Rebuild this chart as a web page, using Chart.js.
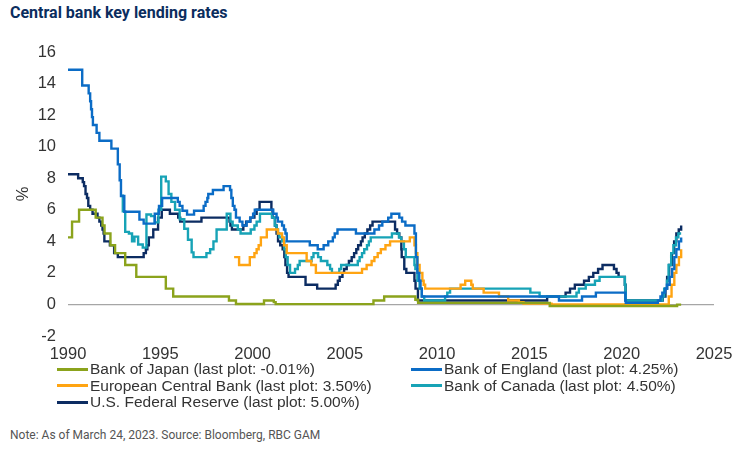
<!DOCTYPE html>
<html>
<head>
<meta charset="utf-8">
<script src="https://cdn.jsdelivr.net/npm/chart.js@4/dist/chart.umd.min.js"></script>
<style>
  html, body { margin: 0; padding: 0; background: #fff; }
  body { width: 744px; height: 452px; position: relative; overflow: hidden; }
  .title { position: absolute; left: 10px; top: 3px; font: bold 16px Roboto, sans-serif; color: #0b2d5e; }
  #chart { position: absolute; left: 0; top: 0; }
  .legend { position: absolute; top: 361px; left: 57px; display: grid; grid-template-columns: 354px 320px; row-gap: 0; font: 15.5px "Liberation Sans Narrow", "Arial Narrow", sans-serif; color: #333; }
  .legend-item { display: flex; align-items: center; height: 16.5px; white-space: nowrap; }
  .legend-line { width: 31px; height: 3px; margin-right: 2px; }
  .note { position: absolute; left: 10px; top: 428px; font: 12px Roboto, sans-serif; color: #555; }
</style>
</head>
<body>
<div class="title">Central bank key lending rates</div>
<canvas id="chart" width="744" height="362"></canvas>
<div class="legend" id="legend"></div>
<div class="note">Note: As of March 24, 2023. Source: Bloomberg, RBC GAM</div>
<script>
/* ---- change points: [decimal year, rate %] ---- */
const bojRates = [[1990.0,4.25],[1990.22,5.25],[1990.6,6.0],[1991.5,5.5],[1991.87,5.0],[1991.98,4.5],[1992.3,3.75],[1992.55,3.25],[1993.1,2.5],[1993.7,1.75],[1995.3,1.0],[1995.7,0.5],[1998.72,0.25],[1999.1,0.03],[2000.62,0.25],[2001.15,0.15],[2001.25,0.02],[2006.55,0.25],[2007.13,0.5],[2008.82,0.3],[2008.97,0.1],[2016.1,-0.1],[2023.0,-0.01],[2023.22,-0.01]];

const boeRates = [[1990.0,14.875],[1990.77,13.875],[1991.12,13.375],[1991.2,12.875],[1991.25,12.375],[1991.3,11.875],[1991.35,11.375],[1991.55,10.875],[1991.7,10.375],[1992.35,9.875],[1992.7,8.875],[1992.8,7.875],[1992.87,6.875],[1993.05,5.875],[1993.87,5.375],[1994.1,5.125],[1994.7,5.75],[1994.93,6.25],[1995.1,6.75],[1995.95,6.5],[1996.05,6.25],[1996.2,5.94],[1996.45,5.69],[1996.83,5.94],[1997.35,6.25],[1997.45,6.5],[1997.55,6.75],[1997.6,7.0],[1997.85,7.25],[1998.43,7.5],[1998.78,7.25],[1998.85,6.75],[1998.93,6.25],[1999.02,6.0],[1999.1,5.5],[1999.3,5.25],[1999.45,5.0],[1999.68,5.25],[1999.87,5.5],[2000.03,5.75],[2000.12,6.0],[2001.12,5.75],[2001.3,5.5],[2001.37,5.25],[2001.6,5.0],[2001.7,4.75],[2001.78,4.5],[2001.85,4.0],[2003.1,3.75],[2003.53,3.5],[2003.85,3.75],[2004.1,4.0],[2004.35,4.25],[2004.45,4.5],[2004.6,4.75],[2005.6,4.5],[2006.6,4.75],[2006.85,5.0],[2007.03,5.25],[2007.35,5.5],[2007.52,5.75],[2007.95,5.5],[2008.1,5.25],[2008.28,5.0],[2008.77,4.5],[2008.85,3.0],[2008.93,2.0],[2009.03,1.5],[2009.1,1.0],[2009.17,0.5],[2016.6,0.25],[2017.85,0.5],[2018.6,0.75],[2020.2,0.25],[2020.22,0.1],[2021.96,0.25],[2022.1,0.5],[2022.2,0.75],[2022.35,1.0],[2022.45,1.25],[2022.6,1.75],[2022.73,2.25],[2022.85,3.0],[2022.96,3.5],[2023.1,4.0],[2023.22,4.25]];

const ecbRates = [[1999.0,3.0],[1999.27,2.5],[1999.85,3.0],[2000.1,3.25],[2000.22,3.5],[2000.33,3.75],[2000.45,4.25],[2000.77,4.75],[2001.37,4.5],[2001.6,4.25],[2001.7,3.75],[2001.85,3.25],[2002.93,2.75],[2003.18,2.5],[2003.43,2.0],[2005.93,2.25],[2006.18,2.5],[2006.45,2.75],[2006.6,3.0],[2006.78,3.25],[2006.95,3.5],[2007.2,3.75],[2007.45,4.0],[2008.52,4.25],[2008.77,3.75],[2008.85,3.25],[2008.93,2.5],[2009.05,2.0],[2009.2,1.5],[2009.27,1.25],[2009.35,1.0],[2011.27,1.25],[2011.52,1.5],[2011.85,1.25],[2011.93,1.0],[2012.52,0.75],[2013.35,0.5],[2013.85,0.25],[2014.43,0.15],[2014.68,0.05],[2016.2,0.0],[2022.55,0.5],[2022.7,1.25],[2022.85,2.0],[2022.96,2.5],[2023.1,3.0],[2023.22,3.5]];

const bocRates = [[1992.85,6.9],[1992.97,5.9],[1993.1,4.6],[1993.3,4.5],[1993.47,4.0],[1993.6,4.3],[1993.8,3.8],[1994.05,3.6],[1994.25,5.7],[1994.5,5.6],[1994.7,5.2],[1994.9,6.0],[1995.05,8.1],[1995.3,7.8],[1995.45,7.0],[1995.6,6.5],[1995.8,6.0],[1996.05,5.4],[1996.3,4.8],[1996.5,4.1],[1996.7,3.3],[1996.8,3.0],[1997.5,3.25],[1997.7,3.5],[1997.88,4.0],[1998.05,4.75],[1998.6,5.75],[1998.8,5.25],[1998.92,5.0],[1999.2,4.75],[1999.35,4.5],[1999.9,4.75],[2000.1,5.0],[2000.22,5.25],[2000.4,5.75],[2001.05,5.5],[2001.2,5.0],[2001.3,4.75],[2001.38,4.5],[2001.45,4.25],[2001.6,4.0],[2001.72,3.5],[2001.8,3.0],[2001.9,2.5],[2002.03,2.0],[2002.3,2.25],[2002.45,2.5],[2002.55,2.75],[2003.2,3.0],[2003.3,3.25],[2003.55,3.0],[2003.7,2.75],[2004.05,2.5],[2004.2,2.25],[2004.3,2.0],[2004.7,2.25],[2004.8,2.5],[2005.7,2.75],[2005.8,3.0],[2005.93,3.25],[2006.05,3.5],[2006.2,3.75],[2006.3,4.0],[2006.4,4.25],[2007.55,4.5],[2007.93,4.25],[2008.05,4.0],[2008.2,3.5],[2008.3,3.0],[2008.77,2.5],[2008.82,2.25],[2008.93,1.5],[2009.05,1.0],[2009.17,0.5],[2009.3,0.25],[2010.43,0.5],[2010.55,0.75],[2010.7,1.0],[2015.05,0.75],[2015.55,0.5],[2017.55,0.75],[2017.68,1.0],[2018.05,1.25],[2018.55,1.5],[2018.8,1.75],[2020.17,1.25],[2020.2,0.75],[2020.22,0.25],[2022.2,0.5],[2022.3,1.0],[2022.45,1.5],[2022.54,2.5],[2022.68,3.25],[2022.8,3.75],[2022.94,4.25],[2023.07,4.5],[2023.22,4.5]];

const fedRates = [[1990.0,8.25],[1990.55,8.0],[1990.8,7.75],[1990.87,7.5],[1990.95,7.0],[1991.03,6.75],[1991.1,6.25],[1991.2,6.0],[1991.33,5.75],[1991.6,5.5],[1991.7,5.25],[1991.8,5.0],[1991.87,4.75],[1991.93,4.5],[1991.97,4.0],[1992.27,3.75],[1992.5,3.25],[1992.7,3.0],[1994.1,3.25],[1994.22,3.5],[1994.3,3.75],[1994.38,4.25],[1994.62,4.75],[1994.88,5.5],[1995.08,6.0],[1995.52,5.75],[1995.97,5.5],[1996.08,5.25],[1997.23,5.5],[1998.75,5.25],[1998.8,5.0],[1998.88,4.75],[1999.5,5.0],[1999.65,5.25],[1999.88,5.5],[2000.1,5.75],[2000.22,6.0],[2000.38,6.5],[2001.02,6.0],[2001.08,5.5],[2001.22,5.0],[2001.3,4.5],[2001.38,4.0],[2001.5,3.75],[2001.63,3.5],[2001.72,3.0],[2001.78,2.5],[2001.87,2.0],[2001.95,1.75],[2002.87,1.25],[2003.5,1.0],[2004.5,1.25],[2004.62,1.5],[2004.72,1.75],[2004.87,2.0],[2004.96,2.25],[2005.1,2.5],[2005.22,2.75],[2005.37,3.0],[2005.5,3.25],[2005.62,3.5],[2005.72,3.75],[2005.87,4.0],[2005.96,4.25],[2006.08,4.5],[2006.22,4.75],[2006.37,5.0],[2006.5,5.25],[2007.72,4.75],[2007.83,4.5],[2007.95,4.25],[2008.06,3.5],[2008.08,3.0],[2008.22,2.25],[2008.33,2.0],[2008.77,1.5],[2008.83,1.0],[2008.96,0.25],[2015.96,0.5],[2016.96,0.75],[2017.2,1.0],[2017.46,1.25],[2017.96,1.5],[2018.22,1.75],[2018.46,2.0],[2018.72,2.25],[2018.96,2.5],[2019.58,2.25],[2019.72,2.0],[2019.83,1.75],[2020.17,1.25],[2020.21,0.25],[2022.22,0.5],[2022.37,1.0],[2022.46,1.75],[2022.57,2.5],[2022.72,3.25],[2022.84,4.0],[2022.96,4.5],[2023.09,4.75],[2023.22,5.0]];

const seriesLabels = [
  'Bank of Japan (last plot: -0.01%)',
  'Bank of England (last plot: 4.25%)',
  'European Central Bank (last plot: 3.50%)',
  'Bank of Canada (last plot: 4.50%)',
  'U.S. Federal Reserve (last plot: 5.00%)',
];
const seriesData = [bojRates, boeRates, ecbRates, bocRates, fedRates];
const seriesColors = ['#8ba31c', '#0b6cc6', '#ffa412', '#17a3b6', '#0c2c62'];

const xTicks = [1990, 1995, 2000, 2005, 2010, 2015, 2020, 2025];
const yTicks = [-2, 0, 2, 4, 6, 8, 10, 12, 14, 16];

const TICK_FONT = { family: "'Liberation Sans Narrow', 'Arial Narrow', sans-serif", size: 16.5 };

new Chart(document.getElementById('chart'), {
  type: 'line',
  data: {
    datasets: seriesData.map((rows, i) => ({
      label: seriesLabels[i],
      data: rows.map(([x, y]) => ({ x, y })),
      borderColor: seriesColors[i],
      borderWidth: 2.4,
      pointRadius: 0,
      stepped: 'before',             // value holds until the next change point
      fill: false,
    })),
  },
  options: {
    responsive: false,
    animation: false,
    devicePixelRatio: 1,
    layout: { padding: { top: 52, right: 30, left: 0, bottom: 0 } },
    plugins: { legend: { display: false }, tooltip: { enabled: false } },
    scales: {
      x: {
        type: 'linear',
        min: 1990, max: 2025,
        afterBuildTicks: (s) => { s.ticks = xTicks.map((v) => ({ value: v })); },
        afterFit: (s) => { s.height = 26; },
        grid: { display: false },
        border: { display: false },
        ticks: { color: '#333', font: TICK_FONT, padding: 1, maxRotation: 0, callback: (v) => String(v) },
      },
      y: {
        min: -2, max: 16,
        afterBuildTicks: (s) => { s.ticks = yTicks.map((v) => ({ value: v })); },
        afterFit: (s) => { s.width = 68; },
        grid: {
          drawTicks: false,
          color: (ctx) => (ctx.tick && ctx.tick.value === 0 ? '#a6a6a6' : 'rgba(0,0,0,0)'),
          lineWidth: 1.2,
        },
        border: { display: false },
        title: { display: true, text: '%', color: '#333', font: TICK_FONT, padding: { top: 14, bottom: 0 } },
        ticks: { color: '#333', font: TICK_FONT, padding: 12 },
      },
    },
  },
});

/* ---- html legend in two columns ---- */
document.getElementById('legend').innerHTML = seriesLabels.map((label, i) => `
  <div class="legend-item"><span class="legend-line" style="background:${seriesColors[i]}"></span>${label}</div>`).join('');
</script>
</body>
</html>
